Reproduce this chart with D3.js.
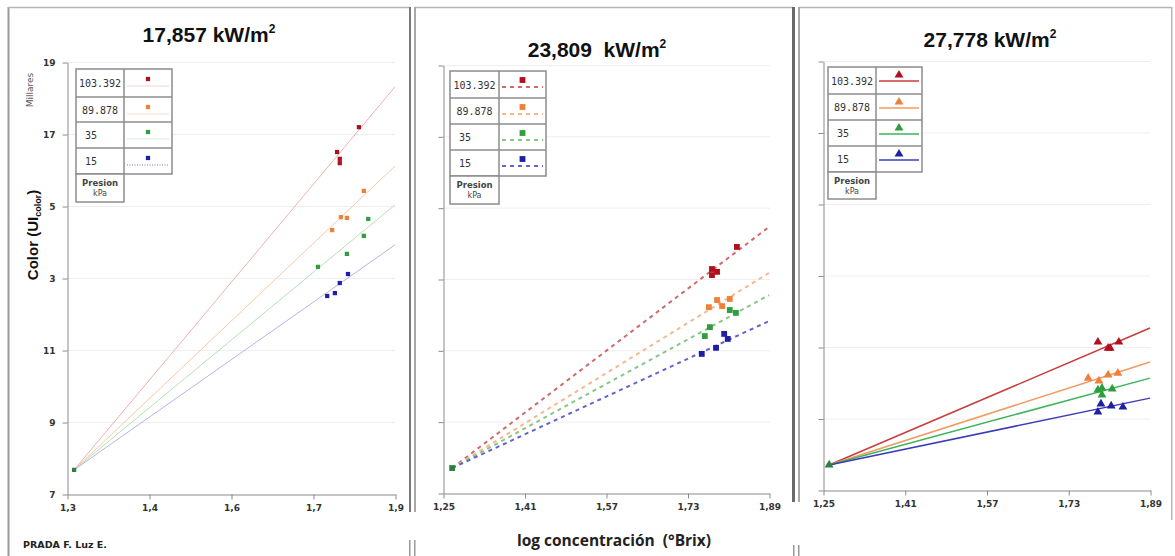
<!DOCTYPE html>
<html>
<head>
<meta charset="utf-8">
<script src="https://cdn.jsdelivr.net/npm/d3@7"></script>
<style>
  body { margin: 0; background: #fff; }
  svg { display: block; }
</style>
</head>
<body>
<svg id="chart" width="1175" height="556" font-family="DejaVu Sans, sans-serif"></svg>
<script>
// ---- data ----
const pressures = ["103.392", "89.878", "35", "15"];
const yTicks = [7, 9, 11, 13, 15, 17, 19];
const yTickLabels = ["7", "9", "11", "13", "15", "17", "19"];
const xTicks1 = [1.3, 1.45, 1.6, 1.75, 1.9];
const xTickLabels1 = ["1,3", "1,4", "1,6", "1,7", "1,9"];
const xTicks23 = [1.25, 1.41, 1.57, 1.73, 1.89];
const xTickLabels23 = ["1,25", "1,41", "1,57", "1,73", "1,89"];
const titles = ["17,857 kW/m", "23,809  kW/m", "27,778 kW/m"];

// 17,857 kW/m2
const origin1 = [1.313, 7.67];
const points1 = [
  [[1.834, 17.19], [1.794, 16.50], [1.799, 16.31], [1.799, 16.19]],
  [[1.843, 15.42], [1.801, 14.69], [1.812, 14.67], [1.785, 14.33]],
  [[1.851, 14.64], [1.843, 14.17], [1.812, 13.67], [1.759, 13.31]],
  [[1.814, 13.11], [1.799, 12.86], [1.790, 12.58], [1.776, 12.50]]
];
const trendEnd1 = [18.31, 16.11, 15.03, 13.92]; // at x = 1,9

// 23,809 kW/m2
const origin2 = [1.268, 7.70];
const points2 = [
  [[1.827, 13.90], [1.778, 13.28], [1.788, 13.20], [1.778, 13.11]],
  [[1.788, 12.41], [1.813, 12.44], [1.798, 12.24], [1.772, 12.21]],
  [[1.813, 12.13], [1.825, 12.05], [1.774, 11.65], [1.764, 11.40]],
  [[1.802, 11.46], [1.809, 11.32], [1.786, 11.07], [1.758, 10.90]]
];
const trendEnd2 = [14.46, 13.17, 12.55, 11.82]; // at x = 1,89

// 27,778 kW/m2
const origin3 = [1.262, 7.70];
const points3 = [
  [[1.788, 11.14], [1.808, 10.97], [1.812, 10.97], [1.829, 11.14]],
  [[1.769, 10.13], [1.790, 10.05], [1.808, 10.22], [1.827, 10.27]],
  [[1.788, 9.80], [1.796, 9.85], [1.796, 9.66], [1.816, 9.83]],
  [[1.788, 9.18], [1.794, 9.41], [1.814, 9.35], [1.837, 9.32]]
];
const trendEnd3 = [11.53, 10.58, 10.13, 9.57]; // at x = 1,89

// ---- drawing ----
const svg = d3.select("#chart");
const markColors = ["#b0101e", "#f07f3a", "#2f9e3f", "#1f1fa5"];

// frames
const frame = svg.append("g");
frame.append("line").attr("x1", 8.5).attr("x2", 8.5).attr("y1", 7).attr("y2", 556).attr("stroke", "#9a9a9a").attr("stroke-width", 2);
[[8, 410], [415, 793], [799, 1172]].forEach(([a, b]) =>
  frame.append("line").attr("x1", a).attr("x2", b).attr("y1", 7.5).attr("y2", 7.5).attr("stroke", "#b5b5b5").attr("stroke-width", 1.5));
[[409, 2, "#7a7a7a", 512], [414, 2, "#a8a8a8", 512], [792, 3, "#6a6a6a", 502], [798, 2, "#a8a8a8", 502], [1171, 1.5, "#b5b5b5", 520]]
  .forEach(([x0, w, c, y1]) => frame.append("rect").attr("x", x0).attr("y", 7).attr("width", w).attr("height", y1 - 7).attr("fill", c));
[[409, 540], [414, 540], [793, 545], [798, 545]].forEach(([x0, y0]) =>
  frame.append("rect").attr("x", x0).attr("y", y0).attr("width", 1.5).attr("height", 556 - y0).attr("fill", "#999"));

function panel(cfg) {
  const x = d3.scaleLinear().domain(cfg.xDomain).range(cfg.xRange);
  const y = d3.scaleLinear().domain([7, 19]).range(cfg.yRange);
  const g = svg.append("g");

  // grid
  g.append("g").selectAll("line").data(yTicks.slice(1)).join("line")
    .attr("x1", cfg.xRange[0]).attr("x2", cfg.gridEnd)
    .attr("y1", d => y(d) + 0.5).attr("y2", d => y(d) + 0.5)
    .attr("stroke", "#eeeeee");

  // axes
  const yAxis = g.append("g")
    .attr("transform", `translate(${cfg.xRange[0] + 0.5},0.5)`)
    .call(d3.axisLeft(y).tickValues(yTicks).tickSize(5).tickSizeOuter(0).tickPadding(7)
      .tickFormat((d, i) => cfg.yLabels ? yTickLabels[i] : ""));
  const xAxis = g.append("g")
    .attr("transform", `translate(0.5,${cfg.yRange[0] + 0.5})`)
    .call(d3.axisBottom(x).tickValues(cfg.xTicks).tickSize(5).tickSizeOuter(0).tickPadding(5)
      .tickFormat((d, i) => cfg.xLabels[i]));
  [yAxis, xAxis].forEach(a => {
    a.select(".domain").attr("stroke", "#8a8a8a");
    a.selectAll(".tick line").attr("stroke", "#8a8a8a");
    a.selectAll("text").attr("fill", "#333").attr("font-size", 9).attr("font-weight", "bold")
      .attr("font-family", "DejaVu Sans, sans-serif");
  });

  // trend lines
  cfg.trendEnd.forEach((v, i) => {
    g.append("line")
      .attr("x1", x(cfg.origin[0])).attr("y1", y(cfg.origin[1]))
      .attr("x2", x(cfg.xDomain[1])).attr("y2", y(v))
      .attr("stroke", cfg.lineColors[i]).attr("stroke-width", cfg.lineWidth)
      .attr("stroke-dasharray", cfg.dash || null);
  });

  // points
  const sym = d3.symbol().type(cfg.symbol).size(cfg.symSize);
  cfg.points.forEach((pts, i) => {
    g.append("g").selectAll("path").data(pts).join("path")
      .attr("d", sym)
      .attr("transform", d => `translate(${x(d[0])},${y(d[1])})`)
      .attr("fill", markColors[i]);
  });
  g.append("path").attr("d", sym)
    .attr("transform", `translate(${x(cfg.origin[0])},${y(cfg.origin[1])})`)
    .attr("fill", "#2f7f3f");

  // legend table
  const L = cfg.legend;
  const lg = g.append("g");
  const rowY = [L.top, ...L.rows];
  lg.append("rect").attr("x", L.left).attr("y", L.top).attr("width", L.right - L.left).attr("height", L.rows[3] - L.top)
    .attr("fill", "#fff").attr("stroke", "#8c8c8c").attr("stroke-width", 1.5);
  lg.append("rect").attr("x", L.left).attr("y", L.rows[3]).attr("width", L.split - L.left).attr("height", L.bottom - L.rows[3])
    .attr("fill", "#fff").attr("stroke", "#8c8c8c").attr("stroke-width", 1.5);
  lg.append("line").attr("x1", L.split).attr("x2", L.split).attr("y1", L.top).attr("y2", L.rows[3]).attr("stroke", "#8c8c8c").attr("stroke-width", 1.5);
  L.rows.slice(0, 3).forEach(r => lg.append("line").attr("x1", L.left).attr("x2", L.right).attr("y1", r).attr("y2", r)
    .attr("stroke", "#8c8c8c").attr("stroke-width", 1.5));
  pressures.forEach((p, i) => {
    const t = rowY[i], b = rowY[i + 1];
    const wide = p.length > 3;
    lg.append("text")
      .attr("x", wide ? (L.left + L.split) / 2 : L.left + 9)
      .attr("y", (t + b) / 2 + 4)
      .attr("text-anchor", wide ? "middle" : "start")
      .attr("font-family", "DejaVu Sans Mono, monospace").attr("font-size", 10)
      .attr("fill", "#333").text(p);
    const cx = (L.split + L.right) / 2;
    lg.append("line").attr("x1", L.split + 3).attr("x2", L.right - 3)
      .attr("y1", t + L.lineOff).attr("y2", t + L.lineOff)
      .attr("stroke", cfg.legendLine[i]).attr("stroke-width", cfg.lineWidth)
      .attr("stroke-dasharray", cfg.legendDash ? cfg.legendDash[i] : null);
    lg.append("path").attr("d", sym).attr("transform", `translate(${cx},${t + L.markOff})`).attr("fill", markColors[i]);
  });
  const pc = (L.left + L.split) / 2;
  lg.append("text").attr("x", pc).attr("y", L.rows[3] + 12).attr("text-anchor", "middle")
    .attr("font-size", 8.5).attr("font-weight", "bold").attr("fill", "#444").text("Presion");
  lg.append("text").attr("x", pc).attr("y", L.rows[3] + 22).attr("text-anchor", "middle")
    .attr("font-size", 8).attr("fill", "#444").text("kPa");

  // title
  const tt = svg.append("text").attr("x", cfg.titleX).attr("y", cfg.titleY).attr("text-anchor", "middle")
    .attr("font-family", "Liberation Sans, Arial, sans-serif").attr("font-weight", "bold").attr("font-size", 21)
    .attr("fill", "#111").style("white-space", "pre");
  tt.append("tspan").text(cfg.title);
  tt.append("tspan").attr("dy", -9).attr("font-size", 12).text("2");
}

panel({
  xDomain: [1.3, 1.9], xRange: [67, 395], yRange: [494, 62], gridEnd: 395,
  xTicks: xTicks1, xLabels: xTickLabels1, yLabels: true,
  origin: origin1, points: points1, trendEnd: trendEnd1,
  lineColors: ["#efb0b0", "#f8c9a2", "#b2e2b2", "#b4b4ea"], lineWidth: 1,
  legendLine: ["#f4d4d4", "#fbe0cc", "#d6efd6", "#7070c8"], legendDash: [null, null, null, "1,1.5"],
  symbol: d3.symbolSquare, symSize: 18,
  legend: { left: 76, top: 69, split: 124, right: 172, rows: [97, 122, 148, 174], bottom: 202, markOff: 10, lineOff: 17 },
  title: titles[0], titleX: 209, titleY: 42
});
panel({
  xDomain: [1.25, 1.89], xRange: [443, 769], yRange: [493, 65], gridEnd: 770,
  xTicks: xTicks23, xLabels: xTickLabels23, yLabels: false,
  origin: origin2, points: points2, trendEnd: trendEnd2,
  lineColors: ["#d06a6a", "#f6b88c", "#86c686", "#6464cc"], lineWidth: 2, dash: "4,4",
  legendLine: ["#d06a6a", "#f6b88c", "#86c686", "#6464cc"], legendDash: ["4,4", "4,4", "4,4", "4,4"],
  symbol: d3.symbolSquare, symSize: 34,
  legend: { left: 450, top: 71, split: 499, right: 546, rows: [98, 124, 150, 176], bottom: 204, markOff: 9, lineOff: 16 },
  title: titles[1], titleX: 597, titleY: 57
});
panel({
  xDomain: [1.25, 1.89], xRange: [823, 1150], yRange: [490, 61], gridEnd: 1150,
  xTicks: xTicks23, xLabels: xTickLabels23, yLabels: false,
  origin: origin3, points: points3, trendEnd: trendEnd3,
  lineColors: ["#c83c3c", "#f29a62", "#3cb45a", "#3c3cb8"], lineWidth: 1.5,
  legendLine: ["#c83c3c", "#f29a62", "#3cb45a", "#3c3cb8"],
  symbol: d3.symbolTriangle, symSize: 34,
  legend: { left: 828, top: 67, split: 876, right: 922, rows: [94, 120, 146, 172], bottom: 199, markOff: 8, lineOff: 14 },
  title: titles[2], titleX: 990, titleY: 47
});

// y axis title with white backing (hides the leading digit of 13 and 15)
const yt = svg.append("g").attr("transform", "translate(38,235) rotate(-90)");
yt.append("rect").attr("x", -50).attr("y", -14).attr("width", 100).attr("height", 25).attr("fill", "#fff");
const ytt = yt.append("text").attr("text-anchor", "middle").attr("font-family", "Liberation Sans, Arial, sans-serif")
  .attr("font-weight", "bold").attr("font-size", 15).attr("fill", "#111");
ytt.append("tspan").text("Color (UI");
ytt.append("tspan").attr("dy", 3).attr("font-size", 9).text("color");
ytt.append("tspan").attr("dy", -3).text(")");

svg.append("text").attr("transform", "translate(33,90) rotate(-90)").attr("text-anchor", "middle")
  .attr("font-size", 9).attr("fill", "#555").text("Millares");

svg.append("text").attr("x", 614).attr("y", 546).attr("text-anchor", "middle").style("white-space", "pre")
  .attr("font-family", "Open Sans, sans-serif").attr("font-weight", "bold").attr("font-size", 15.5).attr("fill", "#222")
  .text("log concentración  (°Brix)");

svg.append("text").attr("x", 23).attr("y", 548).attr("font-size", 9.5).attr("font-weight", "bold").attr("fill", "#222")
  .text("PRADA F. Luz E.");
</script>
</body>
</html>
